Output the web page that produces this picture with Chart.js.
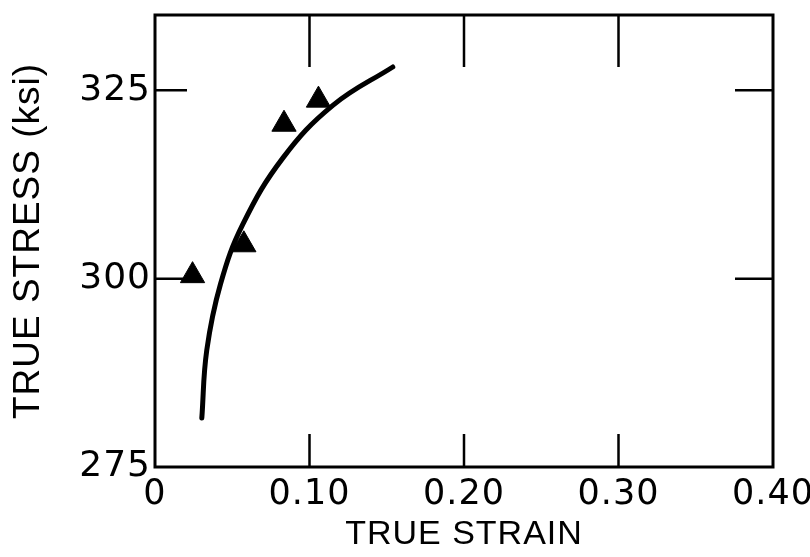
<!DOCTYPE html>
<html>
<head>
<meta charset="utf-8">
<script src="https://cdn.jsdelivr.net/npm/chart.js@4/dist/chart.umd.min.js"></script>
<style>
html,body{margin:0;padding:0;background:#fff;}
#wrap{width:810px;height:557px;position:relative;}
</style>
</head>
<body>
<div id="wrap"><canvas id="c"></canvas></div>
<script>
// Measured data (triangles)
const strainPts = [0.0243, 0.0575, 0.0835, 0.1058];
const stressPts = [300.4, 304.5, 320.5, 323.7];
// Fitted curve
const curveStrain = [0.0303, 0.0335, 0.0424, 0.0568, 0.0827, 0.1151, 0.1539];
const curveStress = [281.5, 290.5, 299.3, 307.2, 316.0, 323.0, 328.1];
// Axis ticks
const xTicks = [0, 0.1, 0.2, 0.3, 0.4];
const xTickLabels = ['0', '0.10', '0.20', '0.30', '0.40'];
const yTicks = [275, 300, 325];
const yTickLabels = ['275', '300', '325'];

const TICKFONT = "'DejaVu Sans', sans-serif";
const TITLEFONT = "'Liberation Sans', Arial, sans-serif";

const frame = {
  id: 'frame',
  beforeDraw(chart) { chart.ctx.letterSpacing = '1px'; },
  afterDatasetsDraw(chart) {
    const {ctx, chartArea: a, scales: {x, y}} = chart;
    ctx.save();
    ctx.strokeStyle = '#000';
    ctx.lineWidth = 3;
    ctx.strokeRect(a.left, a.top, a.right - a.left, a.bottom - a.top);
    ctx.lineWidth = 2.5;
    ctx.beginPath();
    x.ticks.forEach(t => {
      if (t.value <= x.min || t.value >= x.max) return;
      const px = x.getPixelForValue(t.value);
      ctx.moveTo(px, a.bottom); ctx.lineTo(px, a.bottom - 33);
      ctx.moveTo(px, a.top); ctx.lineTo(px, a.top + 52);
    });
    y.ticks.forEach(t => {
      if (t.value <= y.min || t.value >= y.max) return;
      const py = y.getPixelForValue(t.value);
      ctx.moveTo(a.left, py); ctx.lineTo(a.left + 32, py);
      ctx.moveTo(a.right, py); ctx.lineTo(a.right - 38, py);
    });
    ctx.stroke();
    ctx.restore();
  }
};

new Chart(document.getElementById('c'), {
  type: 'scatter',
  data: {
    datasets: [
      {
        label: 'curve',
        data: curveStrain.map((v, i) => ({x: v, y: curveStress[i]})),
        showLine: true,
        borderColor: '#000',
        borderWidth: 5,
        pointRadius: 0,
        tension: 0.4,
        borderCapStyle: 'round',
        fill: false
      },
      {
        label: 'data',
        data: strainPts.map((v, i) => ({x: v, y: stressPts[i]})),
        pointStyle: 'triangle',
        pointRadius: 14,
        backgroundColor: '#000',
        borderColor: '#000',
        borderWidth: 1
      }
    ]
  },
  options: {
    responsive: true,
    maintainAspectRatio: false,
    animation: false,
    events: [],
    layout: {padding: {top: 12, right: 37, left: 0, bottom: 0}},
    plugins: {legend: {display: false}, tooltip: {enabled: false}},
    scales: {
      x: {
        type: 'linear',
        min: 0, max: 0.4,
        afterBuildTicks: s => { s.ticks = xTicks.map(v => ({value: v})); },
        afterFit: s => { s.height = 90; s.paddingLeft = 0; s.paddingRight = 0; },
        grid: {display: false, drawTicks: false},
        border: {display: false},
        ticks: {
          autoSkip: false, maxRotation: 0, padding: 7, color: '#000',
          font: {family: TICKFONT, size: 35},
          callback: (v) => { const i = xTicks.indexOf(v); return i >= 0 ? xTickLabels[i] : ''; }
        },
        title: {display: true, text: 'TRUE STRAIN', color: '#000', font: {family: TITLEFONT, size: 34}, padding: {top: 0, bottom: 2}}
      },
      y: {
        type: 'linear',
        min: 275, max: 335,
        afterBuildTicks: s => { s.ticks = yTicks.map(v => ({value: v})); },
        afterFit: s => { s.width = 155; s.paddingTop = 0; s.paddingBottom = 0; },
        grid: {display: false, drawTicks: false},
        border: {display: false},
        ticks: {
          autoSkip: false, padding: 4, color: '#000',
          font: {family: TICKFONT, size: 36},
          callback: (v) => { const i = yTicks.indexOf(v); return i >= 0 ? yTickLabels[i] : ''; }
        },
        title: {display: true, text: 'TRUE STRESS (ksi)', color: '#000', font: {family: TITLEFONT, size: 37}, padding: {top: 7, bottom: 0}}
      }
    }
  },
  plugins: [frame]
});
</script>
</body>
</html>
